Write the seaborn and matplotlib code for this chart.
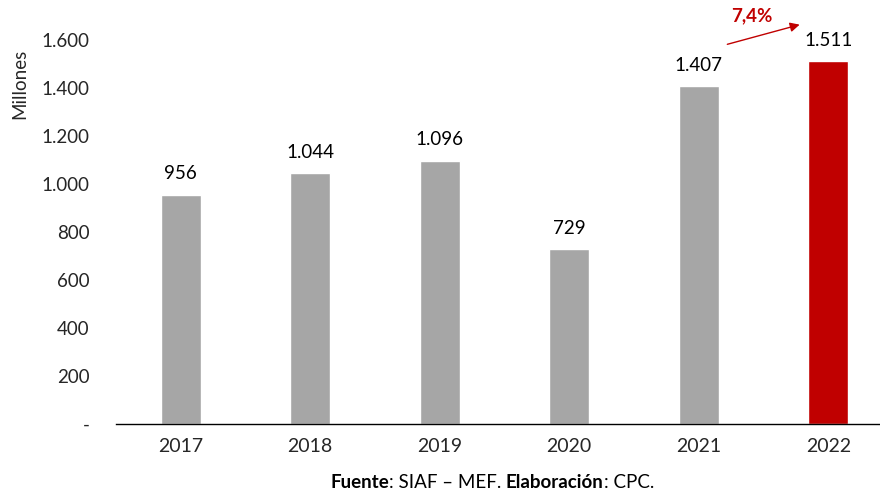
import matplotlib
matplotlib.use("Agg")
import matplotlib.pyplot as plt
import seaborn as sns
import pandas as pd
from matplotlib.offsetbox import TextArea, HPacker, AnchoredOffsetbox
from matplotlib.ticker import FuncFormatter

# data
years = ["2017", "2018", "2019", "2020", "2021", "2022"]
values = [956, 1044, 1096, 729, 1407, 1511]
growth_label = "7,4%"

df = pd.DataFrame({"year": years, "value": values})

sns.set_style("white")
plt.rcParams["font.family"] = ["Lato", "DejaVu Sans"]

gray = "#A6A6A6"
red = "#C00000"
colors = [gray] * 5 + [red]

fig = plt.figure(figsize=(8.8, 4.95), dpi=100)
ax = fig.add_axes([116 / 880, 1 - 424 / 495, 777 / 880, 384 / 495])

sns.barplot(data=df, x="year", y="value", hue="year", palette=colors,
            width=0.31, legend=False, ax=ax, saturation=1)

ax.set_ylim(0, 1600)
ax.set_yticks(range(0, 1601, 200))


def fmt(v, pos):
    if v == 0:
        return "-"
    return f"{int(v):,}".replace(",", ".")


ax.yaxis.set_major_formatter(FuncFormatter(fmt))
ax.tick_params(axis="y", length=0, pad=19, labelsize=13.5)
ax.tick_params(axis="x", length=0, pad=10, labelsize=14)
ax.set_xlabel("")
ax.set_ylabel("")
for s in ["top", "right", "left"]:
    ax.spines[s].set_visible(False)
ax.spines["bottom"].set_color("black")
ax.spines["bottom"].set_linewidth(1)

# value labels
for i, v in enumerate(values):
    ax.annotate(f"{v:,}".replace(",", "."), (i, v), xytext=(0, 9),
                textcoords="offset points", ha="center", va="bottom",
                fontsize=13.5, color="black", annotation_clip=False)

# growth arrow
ax.annotate("", xy=(4.8, 1667), xytext=(4.2, 1579),
            arrowprops=dict(arrowstyle="-|>", color=red, lw=1, mutation_scale=14),
            annotation_clip=False)
ax.text(4.41, 1700, growth_label, color=red, fontsize=13.5, fontweight="bold",
        ha="center", va="center", clip_on=False)

# y-axis title
fig.text(20 / 880, 1 - 84 / 495, "Millones", rotation=90, ha="center",
         va="center", fontsize=13.5)

# source footer
parts = [("Fuente", "bold"), (": SIAF – MEF. ", "normal"),
         ("Elaboración", "bold"), (": CPC.", "normal")]
boxes = [TextArea(t, textprops=dict(fontsize=13.5, fontweight=w, color="black"))
         for t, w in parts]
pack = HPacker(children=boxes, align="baseline", pad=0, sep=0)
anch = AnchoredOffsetbox(loc="center", child=pack, frameon=False,
                         bbox_to_anchor=(492 / 880, 1 - 482 / 495),
                         bbox_transform=fig.transFigure, borderpad=0, pad=0)
fig.add_artist(anch)

fig.savefig("out.png", dpi=100)
